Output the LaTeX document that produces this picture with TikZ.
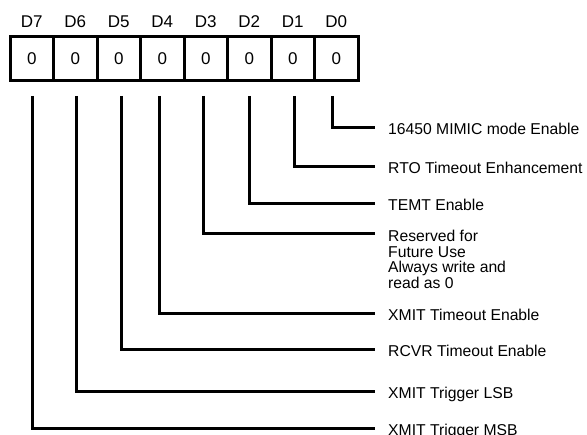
\documentclass[tikz,border=0pt]{standalone}
\usepackage{fontspec}
\setmainfont{Liberation Sans}
\begin{document}
\begin{tikzpicture}[x=1pt,y=-1pt,
  cellbox/.style={draw=black,line width=3pt,minimum width=43.5pt,minimum height=43.5pt,inner sep=0pt,anchor=center,font=\fontsize{17}{17}\selectfont},
  bitlabel/.style={inner sep=0pt,anchor=center,font=\fontsize{17}{17}\selectfont},
  desc/.style={inner sep=0pt,anchor=base west,align=left,font=\fontsize{15.7}{15.7}\selectfont},
  leader/.style={line width=3pt,line join=miter,line cap=butt}]
\useasboundingbox (0,0) rectangle (587,435);
% register cells
\foreach \i/\b in {0/7,1/6,2/5,3/4,4/3,5/2,6/1,7/0}{
  \node[cellbox] (c\b) at ({10+43.5*\i+21.75},58.5) {0};
  \node[bitlabel] (d\b) at ({10+43.5*\i+21.75},21.5) {D\b};
}
% start points of leaders
\coordinate (s0) at (332,96);
\coordinate (s1) at (294,96);
\coordinate (s2) at (249,96);
\coordinate (s3) at (203.5,96);
\coordinate (s4) at (159,96);
\coordinate (s5) at (121,96);
\coordinate (s6) at (76,96);
\coordinate (s7) at (32,96);
% end points
\coordinate (e0) at (375,128);
\coordinate (e1) at (375,167);
\coordinate (e2) at (375,204);
\coordinate (e3) at (375,234);
\coordinate (e4) at (375,314);
\coordinate (e5) at (375,350);
\coordinate (e6) at (375,392);
\coordinate (e7) at (375,429);
% descriptions
\node[desc] (t0) at (388,135) {16450 MIMIC mode Enable};
\node[desc] (t1) at (388,174) {RTO Timeout Enhancement};
\node[desc] (t2) at (388,211) {TEMT Enable};
\node[desc,anchor=north west] (t3) at (388,230) {Reserved for\\Future Use\\Always write and\\read as 0};
\node[desc] (t4) at (388,321) {XMIT Timeout Enable};
\node[desc] (t5) at (388,357) {RCVR Timeout Enable};
\node[desc] (t6) at (388,399) {XMIT Trigger LSB};
\node[desc] (t7) at (388,436) {XMIT Trigger MSB};
% leaders
\foreach \k in {0,...,7}{
  \draw[leader] (s\k) |- (e\k);
}
\end{tikzpicture}
\end{document}
